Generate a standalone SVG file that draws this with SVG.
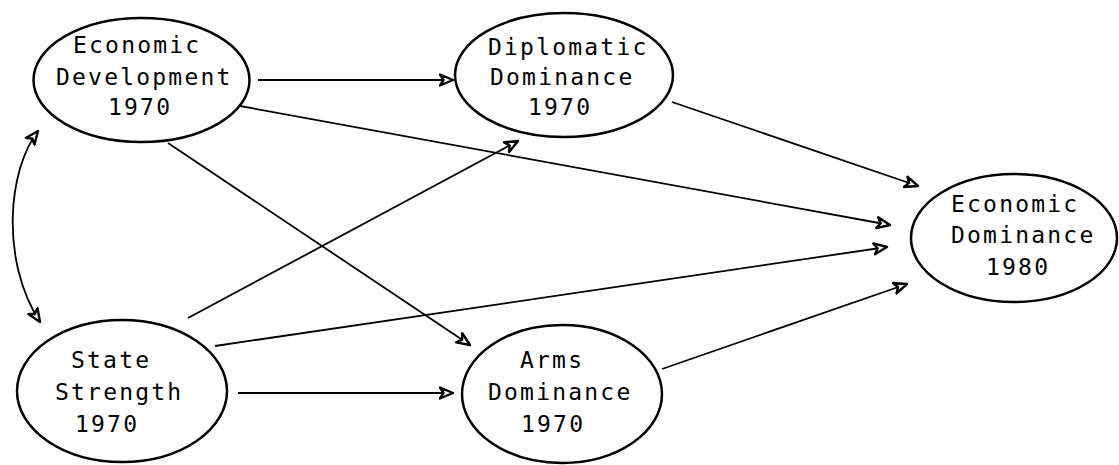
<svg xmlns="http://www.w3.org/2000/svg" width="1119" height="465" viewBox="0 0 1119 465">
<style>
.node ellipse{fill:#fff;stroke:#000;stroke-width:2.5}
.node text{font-family:"DejaVu Sans Mono","Liberation Mono",monospace;font-size:23px;letter-spacing:2.2px;fill:#000}
.edges path,.edges line{fill:none;stroke:#000;stroke-width:1.8;marker-end:url(#ah)}
</style>
<defs>
<marker id="ah" markerUnits="userSpaceOnUse" markerWidth="18" markerHeight="16" refX="14" refY="7" orient="auto-start-reverse" viewBox="0 0 18 14">
<path d="M1,1.5 L14,7 L1,12.5 L4.5,7 Z" fill="#fff" stroke="#000" stroke-width="2.4" stroke-linejoin="round"/>
</marker>
</defs>
<rect width="1119" height="465" fill="#fff"/>
<g class="edges">
<line x1="258" y1="80" x2="453" y2="80"/>
<line x1="240" y1="106" x2="890" y2="225"/>
<line x1="672" y1="102" x2="918" y2="186"/>
<line x1="168" y1="143" x2="470" y2="345"/>
<line x1="188" y1="318" x2="518" y2="141"/>
<line x1="215" y1="346" x2="887" y2="247"/>
<line x1="238" y1="393" x2="453" y2="393"/>
<line x1="662" y1="369" x2="907" y2="284"/>
<path d="M38,131 C8,170 0,260 40,322" marker-start="url(#ah)"/>
</g>
<g id="econ-dev" class="node">
<ellipse cx="141.5" cy="80" rx="108" ry="62"/>
<text x="73" y="53">Economic</text>
<text x="56" y="85">Development</text>
<text x="108" y="115">1970</text>
</g>
<g id="diplomatic" class="node">
<ellipse cx="564" cy="75" rx="109" ry="62"/>
<text x="488" y="55">Diplomatic</text>
<text x="490" y="85">Dominance</text>
<text x="528" y="115">1970</text>
</g>
<g id="econ-dom" class="node">
<ellipse cx="1014" cy="238" rx="103" ry="64"/>
<text x="951" y="212">Economic</text>
<text x="951" y="243">Dominance</text>
<text x="986" y="275">1980</text>
</g>
<g id="state" class="node">
<ellipse cx="122" cy="391" rx="105" ry="71"/>
<text x="71" y="368">State</text>
<text x="55" y="400">Strength</text>
<text x="75" y="432">1970</text>
</g>
<g id="arms" class="node">
<ellipse cx="562" cy="394" rx="100" ry="69"/>
<text x="520" y="368">Arms</text>
<text x="488" y="400">Dominance</text>
<text x="521" y="432">1970</text>
</g>
</svg>
